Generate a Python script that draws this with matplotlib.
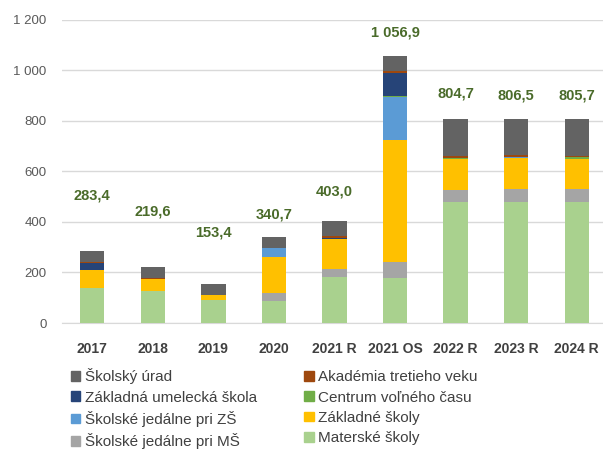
import numpy as np
import matplotlib.pyplot as plt
from matplotlib.patches import Patch

# Categories (years)
years = ['2017', '2018', '2019', '2020', '2021 R', '2021 OS', '2022 R', '2023 R', '2024 R']

# Stacked series, bottom to top
materske = [140, 126, 89, 88, 181, 176, 478, 478, 478]
jedalne_ms = [0, 0, 3, 29, 33, 65, 49, 50, 50]
zakladne = [71, 47, 17, 142, 117, 483, 120, 125, 119]
jedalne_zs = [0, 0, 0, 36, 0, 168, 0, 2, 0]
cvc = [0, 0, 0, 0, 3, 4, 5, 3, 8]
zus = [26, 0, 0, 0, 2, 94, 2, 0, 0]
akademia = [4, 3, 3, 0, 8, 8, 8, 8, 4]
urad = [42.4, 43.6, 41.4, 45.7, 59.0, 58.9, 142.7, 140.5, 146.7]

totals = ['283,4', '219,6', '153,4', '340,7', '403,0', '1 056,9', '804,7', '806,5', '805,7']
# vertical distance of the total label above the bar (points)
label_pad = [40, 40, 37, 16, 21, 17, 19, 17, 17]

series = [
    ('Materské školy', materske, '#A9D18E'),
    ('Školské jedálne pri MŠ', jedalne_ms, '#A5A5A5'),
    ('Základné školy', zakladne, '#FFC000'),
    ('Školské jedálne pri ZŠ', jedalne_zs, '#5B9BD5'),
    ('Centrum voľného času', cvc, '#70AD47'),
    ('Základná umelecká škola', zus, '#264478'),
    ('Akadémia tretieho veku', akademia, '#9E480E'),
    ('Školský úrad', urad, '#636363'),
]

plt.rcParams['font.family'] = ['Liberation Sans', 'DejaVu Sans']

fig = plt.figure(figsize=(6.03, 4.51), dpi=100)
ax = fig.add_axes([62 / 603, 1 - 323 / 451, 545 / 603, 303.5 / 451])

x = np.arange(len(years))
bottom = np.zeros(len(years))
for name, vals, color in series:
    vals = np.array(vals, dtype=float)
    ax.bar(x, vals, 0.4, bottom=bottom, color=color, label=name, zorder=3)
    bottom += vals

for i, txt in enumerate(totals):
    ax.annotate(txt, (x[i], bottom[i]), xytext=(0, label_pad[i]), textcoords='offset points',
                ha='center', va='center', fontsize=10.5, fontweight='bold', color='#4A6B2A')

ax.set_xlim(-0.5, 8.5)
ax.set_ylim(0, 1200)
ax.set_yticks(range(0, 1201, 200))
ax.set_yticklabels(['0', '200', '400', '600', '800', '1 000', '1 200'])
ax.set_xticks(x)
ax.set_xticklabels(years, fontweight='bold', color='#404040', fontsize=10)
ax.tick_params(axis='y', colors='#595959', labelsize=9.5, length=0, pad=11)
ax.tick_params(axis='x', length=0, pad=14)
ax.grid(axis='y', color='#D9D9D9', linewidth=1.0, zorder=0)
for side in ['top', 'right', 'left']:
    ax.spines[side].set_visible(False)
ax.spines['bottom'].set_color('#D9D9D9')

# legend laid out row-wise: reverse of stack order
handles = [Patch(color=c) for _, _, c in series][::-1]
labels = [n for n, _, _ in series][::-1]
order = [0, 2, 4, 6, 1, 3, 5, 7]
fig.legend([handles[i] for i in order], [labels[i] for i in order], ncol=2,
           loc='upper left', bbox_to_anchor=(65 / 603, 1 - 362 / 451), frameon=False,
           fontsize=11, labelcolor='#404040', handlelength=0.6, handleheight=0.6,
           handletextpad=0.3, columnspacing=3.1, labelspacing=0.42, borderaxespad=0)

fig.savefig('out.png', dpi=100)
